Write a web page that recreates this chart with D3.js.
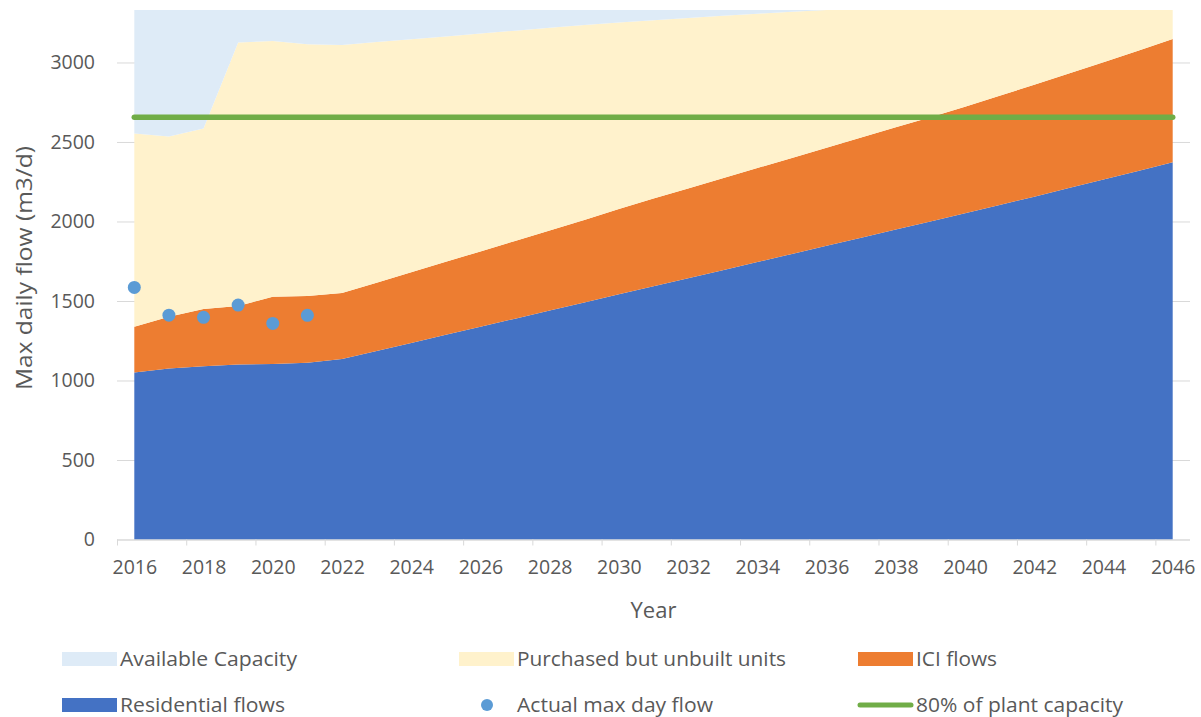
<!DOCTYPE html>
<html>
<head>
<meta charset="utf-8">
<script src="https://cdn.jsdelivr.net/npm/d3@7/dist/d3.min.js"></script>
<style>
  body { margin: 0; background: #fff; }
  text { font-family: "Open Sans", sans-serif; fill: #595959; }
</style>
</head>
<body>
<div id="chart"></div>
<script>
// categories
var years = [2016, 2017, 2018, 2019, 2020, 2021, 2022, 2023, 2024, 2025, 2026,
    2027, 2028, 2029, 2030, 2031, 2032, 2033, 2034, 2035, 2036,
    2037, 2038, 2039, 2040, 2041, 2042, 2043, 2044, 2045, 2046];

// stacked series (m3/d), bottom to top
var residential = [1050, 1075, 1090, 1100, 1103, 1112, 1135, 1185, 1236, 1287, 1338,
    1389, 1440, 1491, 1542, 1593, 1643, 1694, 1745, 1796, 1847,
    1898, 1949, 2000, 2052, 2104, 2156, 2210, 2264, 2318, 2373];
var ici = [288, 326, 359, 368, 424, 419, 415, 429, 444, 459, 474,
    489, 504, 519, 536, 551, 565, 578, 591, 604, 617,
    630, 643, 656, 670, 686, 704, 720, 738, 756, 774];
var purchased = [1215, 1134, 1136, 1657, 1608, 1584, 1560, 1514, 1466, 1418, 1370,
    1322, 1274, 1225, 1173, 1122, 1072, 1022, 971, 919, 866,
    802, 738, 674, 608, 540, 470, 400, 328, 256, 183];
var available = [777, 795, 745, 205, 195, 215, 220, 202, 184, 166, 148,
    130, 112, 95, 79, 64, 50, 36, 23, 11, 0,
    0, 0, 0, 0, 0, 0, 0, 0, 0, 0];

// measured points
var actualYears = [2016, 2017, 2018, 2019, 2020, 2021];
var actualFlow = [1585, 1411, 1397, 1474, 1359, 1410];

var plantLimit = 2656; // 80% of plant capacity
var yTicks = [0, 500, 1000, 1500, 2000, 2500, 3000];
var xLabels = [2016, 2018, 2020, 2022, 2024, 2026, 2028, 2030, 2032, 2034, 2036,
    2038, 2040, 2042, 2044, 2046];

var width = 1201, height = 717;
var left = 117, right = 1190, plotTop = 10, bottom = 539.5;

var svg = d3.select("#chart").append("svg")
    .attr("width", width)
    .attr("height", height);

var x = d3.scaleLinear().domain([2015.5, 2046.5]).range([left, right]);
var y = d3.scaleLinear().domain([0, 3330]).range([bottom, plotTop]);

// gridlines (sit behind the areas)
svg.append("g")
    .attr("transform", "translate(" + left + ",0)")
    .call(d3.axisLeft(y).tickValues(yTicks).tickSize(-(right - left)).tickFormat(""))
    .call(function(g) { g.select(".domain").remove(); })
    .selectAll("line").attr("stroke", "#d9d9d9");

var rows = years.map(function(yr, i) {
    return {year: yr, residential: residential[i], ici: ici[i],
        purchased: purchased[i], available: available[i]};
});
var keys = ["residential", "ici", "purchased", "available"];
var colors = {residential: "#4472c4", ici: "#ed7d31", purchased: "#fff2cc", available: "#deebf7"};

var stack = d3.stack().keys(keys)(rows);

var area = d3.area()
    .x(function(d) { return x(d.data.year); })
    .y0(function(d) { return y(d[0]); })
    .y1(function(d) { return y(d[1]); });

svg.append("g").selectAll("path")
    .data(stack)
    .enter().append("path")
    .attr("d", area)
    .attr("fill", function(d) { return colors[d.key]; });

// 80% line
svg.append("line")
    .attr("x1", x(years[0]))
    .attr("x2", x(years[years.length - 1]))
    .attr("y1", y(plantLimit))
    .attr("y2", y(plantLimit))
    .attr("stroke", "#70ad47")
    .attr("stroke-width", 5.5)
    .attr("stroke-linecap", "round");

// actual flow dots
svg.append("g").selectAll("circle")
    .data(actualYears)
    .enter().append("circle")
    .attr("cx", function(d) { return x(d); })
    .attr("cy", function(d, i) { return y(actualFlow[i]); })
    .attr("r", 6.5)
    .attr("fill", "#5b9bd5");

// x axis: tick marks between categories, labels on categories
var xg = svg.append("g").attr("transform", "translate(0," + bottom + ")");
xg.call(d3.axisBottom(x).tickValues(d3.range(2015.5, 2046, 2)).tickSize(6).tickFormat(""))
    .selectAll("line,path").attr("stroke", "#d9d9d9");
xg.select(".domain").attr("d", "M" + left + ",0.5H" + right);

svg.append("g")
    .attr("transform", "translate(0," + bottom + ")")
    .call(d3.axisBottom(x).tickValues(xLabels).tickSize(0).tickPadding(21).tickFormat(d3.format("d")))
    .call(function(g) { g.select(".domain").remove(); })
    .selectAll("text")
    .attr("font-size", 19.5)
    .attr("font-family", "'Open Sans', sans-serif")
    .attr("fill", "#595959");

// y axis labels
svg.append("g")
    .attr("transform", "translate(" + left + ",0)")
    .call(d3.axisLeft(y).tickValues(yTicks).tickSize(0).tickPadding(22).tickFormat(d3.format("d")))
    .call(function(g) { g.select(".domain").remove(); })
    .selectAll("text")
    .attr("font-size", 19.5)
    .attr("font-family", "'Open Sans', sans-serif")
    .attr("fill", "#595959");

svg.append("text")
    .attr("x", (left + right) / 2)
    .attr("y", 618)
    .attr("text-anchor", "middle")
    .attr("font-size", 22)
    .text("Year");

svg.append("text")
    .attr("transform", "translate(32,268) rotate(-90)")
    .attr("text-anchor", "middle")
    .attr("font-size", 21)
    .attr("textLength", 244)
    .attr("lengthAdjust", "spacingAndGlyphs")
    .text("Max daily flow (m3/d)");

// legend
var legend = [
    {name: "Available Capacity", type: "rect", color: colors.available, x: 62, y: 659, w: 177},
    {name: "Purchased but unbuilt units", type: "rect", color: colors.purchased, x: 459, y: 659, w: 269},
    {name: "ICI flows", type: "rect", color: colors.ici, x: 858, y: 659, w: 81},
    {name: "Residential flows", type: "rect", color: colors.residential, x: 62, y: 705, w: 165},
    {name: "Actual max day flow", type: "dot", color: "#5b9bd5", x: 459, y: 705, w: 196},
    {name: "80% of plant capacity", type: "line", color: "#70ad47", x: 858, y: 705, w: 207}
];

var lg = svg.append("g").selectAll("g")
    .data(legend)
    .enter().append("g")
    .attr("transform", function(d) { return "translate(" + d.x + "," + d.y + ")"; });

lg.filter(function(d) { return d.type == "rect"; })
    .append("rect")
    .attr("x", 0).attr("y", -7)
    .attr("width", 55).attr("height", 14)
    .attr("fill", function(d) { return d.color; });

lg.filter(function(d) { return d.type == "dot"; })
    .append("circle")
    .attr("cx", 28).attr("cy", 0).attr("r", 6)
    .attr("fill", function(d) { return d.color; });

lg.filter(function(d) { return d.type == "line"; })
    .append("line")
    .attr("x1", 2).attr("x2", 53)
    .attr("stroke", function(d) { return d.color; })
    .attr("stroke-width", 5)
    .attr("stroke-linecap", "round");

lg.append("text")
    .attr("x", 58)
    .attr("dy", "0.35em")
    .attr("font-size", 20)
    .attr("textLength", function(d) { return d.w; })
    .attr("lengthAdjust", "spacingAndGlyphs")
    .text(function(d) { return d.name; });
</script>
</body>
</html>
